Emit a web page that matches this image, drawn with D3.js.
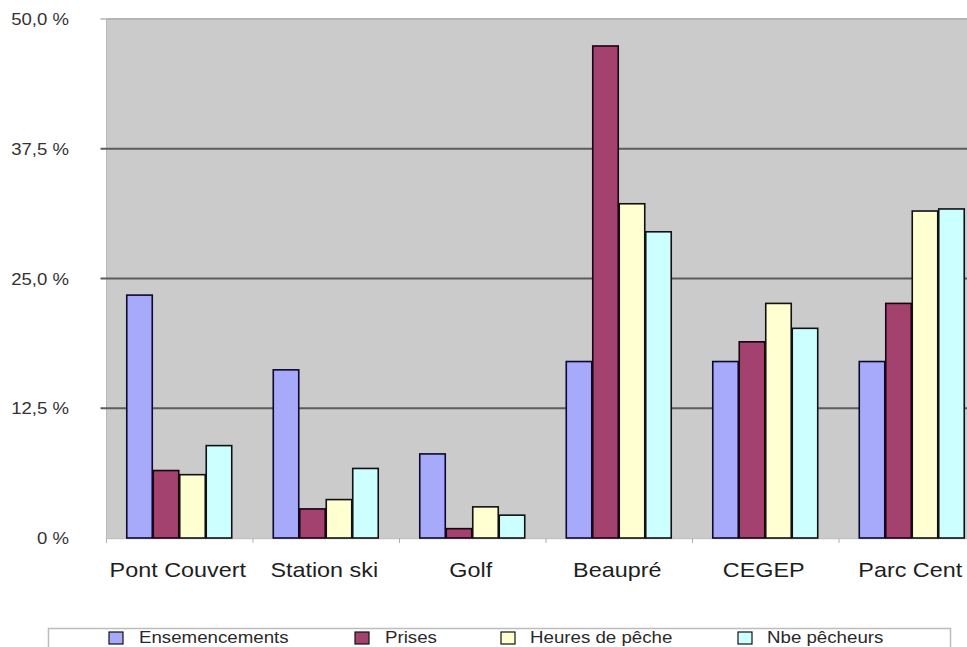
<!DOCTYPE html>
<html>
<head>
<meta charset="utf-8">
<script src="https://cdn.jsdelivr.net/npm/d3@7"></script>
<style>
  html, body { margin: 0; padding: 0; background: #fff; }
  svg { display: block; }
  text { font-family: "Liberation Sans", Arial, sans-serif; }
</style>
</head>
<body>
<svg id="chart" width="967" height="647"></svg>
<script>
// Share (%) per site for each series
const sites = ["Pont Couvert", "Station ski", "Golf", "Beaupré", "CEGEP", "Parc Cent"];
const seriesNames = ["Ensemencements", "Prises", "Heures de pêche", "Nbe pêcheurs"];
const ensemencements = [23.4, 16.2, 8.1, 17.0, 17.0, 17.0];
const prises = [6.5, 2.8, 0.9, 47.4, 18.9, 22.6];
const heuresPeche = [6.1, 3.7, 3.0, 32.2, 22.6, 31.5];
const nbePecheurs = [8.9, 6.7, 2.2, 29.5, 20.2, 31.7];
const yTicks = [0, 12.5, 25, 37.5, 50];
const yTickLabels = ["0 %", "12,5 %", "25,0 %", "37,5 %", "50,0 %"];

const seriesValues = [ensemencements, prises, heuresPeche, nbePecheurs];
const colors = ["#a7a9fa", "#a3426f", "#ffffd2", "#ccffff"];
const strokes = ["#0a0a30", "#1a0010", "#111111", "#111111"];

const svg = d3.select("#chart");
const X_STRETCH = 1.14; // labels are drawn slightly widened

const plotLeft = 106.5, plotTop = 19, plotBottom = 538;
const catW = 146.5;
const plotRight = plotLeft + catW * sites.length;

const x = d3.scaleBand().domain(sites).range([plotLeft, plotRight]).paddingInner(0).paddingOuter(0);
const xs = d3.scaleBand().domain(seriesNames).range([0, catW]).paddingOuter(0.765).paddingInner(0);
const y = d3.scaleLinear().domain([0, 50]).range([plotBottom, plotTop]);

function label(g, txt, px, py, anchor, size, fill) {
  g.append("text")
    .attr("transform", `translate(${px},${py}) scale(${X_STRETCH},1)`)
    .attr("text-anchor", anchor)
    .attr("font-size", size)
    .attr("fill", fill)
    .text(txt);
}

// plot area
svg.append("rect")
  .attr("x", plotLeft).attr("y", y(50))
  .attr("width", 967 - plotLeft).attr("height", y(0) - y(50))
  .attr("fill", "#cbcbcb");
svg.append("line")
  .attr("x1", plotLeft).attr("x2", 967).attr("y1", y(50)).attr("y2", y(50))
  .attr("stroke", "#b4b4b4").attr("stroke-width", 2);
svg.append("line")
  .attr("x1", plotLeft).attr("x2", plotLeft).attr("y1", y(50)).attr("y2", y(0))
  .attr("stroke", "#b8b8b8").attr("stroke-width", 1);

// horizontal gridlines
const grid = svg.append("g");
yTicks.filter(t => t > 0 && t < 50).forEach(t => {
  grid.append("line")
    .attr("x1", plotLeft - 6).attr("x2", 967)
    .attr("y1", y(t)).attr("y2", y(t))
    .attr("stroke", "#5c5c5c").attr("stroke-width", 2);
});
grid.append("line")
  .attr("x1", plotLeft - 6).attr("x2", plotLeft).attr("y1", y(50)).attr("y2", y(50))
  .attr("stroke", "#b4b4b4").attr("stroke-width", 1.5);

// y axis labels
const yAxisG = svg.append("g");
yTicks.forEach((t, i) => {
  label(yAxisG, yTickLabels[i], 69, y(t) + 6, "end", 16.3, "#333");
});

// x axis line and ticks
svg.append("line")
  .attr("x1", plotLeft).attr("x2", 967).attr("y1", y(0) + 0.5).attr("y2", y(0) + 0.5)
  .attr("stroke", "#c4c4c4").attr("stroke-width", 1.5);
sites.forEach(s => {
  svg.append("line")
    .attr("x1", x(s)).attr("x2", x(s)).attr("y1", y(0)).attr("y2", y(0) + 5)
    .attr("stroke", "#b0b0b0").attr("stroke-width", 1);
});

// bars
const barsG = svg.append("g");
seriesNames.forEach((name, si) => {
  barsG.selectAll(null)
    .data(sites.map((s, ci) => ({ site: s, v: seriesValues[si][ci] })))
    .join("rect")
    .attr("x", d => x(d.site) + xs(name))
    .attr("y", d => y(d.v))
    .attr("width", xs.bandwidth() - 1)
    .attr("height", d => y(0) - y(d.v))
    .attr("fill", colors[si])
    .attr("stroke", strokes[si])
    .attr("stroke-width", 1.6);
});

// category labels
const xLab = svg.append("g");
sites.forEach(s => {
  label(xLab, s, x(s) + catW / 2 - 2, 577, "middle", 20.5, "#1e1e1e");
});

// legend
const leg = svg.append("g");
leg.append("rect")
  .attr("x", 48.5).attr("y", 628.5).attr("width", 902).attr("height", 40)
  .attr("fill", "#fff").attr("stroke", "#bdbdbd").attr("stroke-width", 1.5);
const legSquareX = [109, 355, 501, 738];
const legTextX = [139, 385, 530, 767];
seriesNames.forEach((name, i) => {
  leg.append("rect")
    .attr("x", legSquareX[i]).attr("y", 632)
    .attr("width", 14).attr("height", 12)
    .attr("fill", colors[i]).attr("stroke", "#111").attr("stroke-width", 1.2);
  label(leg, name, legTextX[i], 643, "start", 16.4, "#2a2a2a");
});
</script>
</body>
</html>
